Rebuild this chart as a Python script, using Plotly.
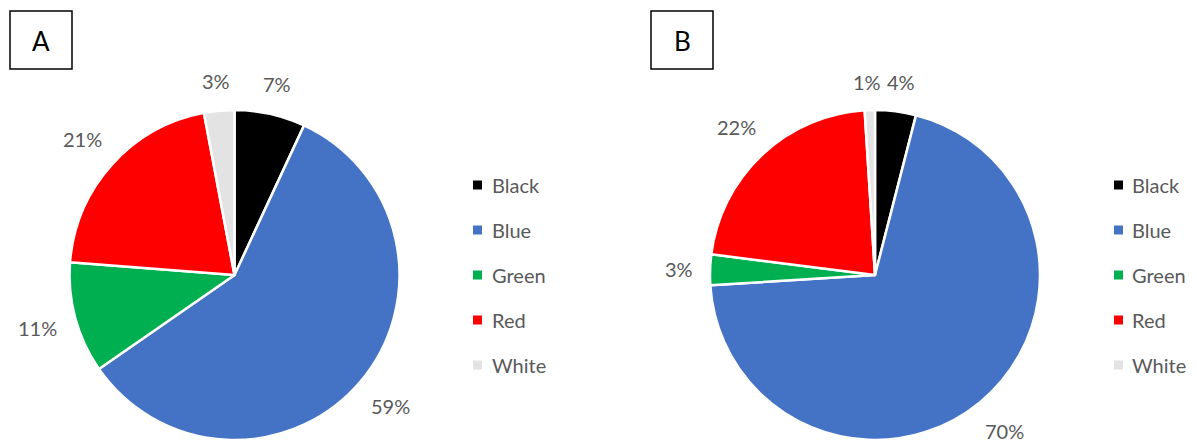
import math
import plotly.graph_objects as go

# Colour categories and their shares (percent) in the two samples
categories = ["Black", "Blue", "Green", "Red", "White"]
share_a = [7, 59, 11, 21, 3]
share_b = [4, 70, 3, 22, 1]
panel_labels = ["A", "B"]

colors = ["#000000", "#4472C4", "#00B050", "#FF0000", "#E3E3E3"]
W, H = 1197, 443
FONT = "Lato"
TXT = "#595959"
FS = 20


def px(x):
    return x / W


def py(y):
    return 1 - y / H


fig = go.Figure()

panels = [
    # (values, pie left/right px, legend square x px, legend text x px, box left px)
    (share_a, 69, 400, 477.5, 490, 10),
    (share_b, 710, 1040, 1118.5, 1130, 651),
]
pie_top, pie_bottom = 110, 440

for (vals, x0, x1, sq_x, tx_x, box_x), name in zip(panels, panel_labels):
    fig.add_trace(go.Pie(
        labels=categories,
        values=vals,
        sort=False,
        direction="clockwise",
        rotation=0,
        marker=dict(colors=colors, line=dict(color="white", width=2.5)),
        textinfo="none",
        domain=dict(x=[px(x0), px(x1)], y=[py(pie_bottom), py(pie_top)]),
        automargin=False,
        showlegend=False,
        hoverinfo="label+value",
        name=name,
    ))

    # percentage labels placed just outside each slice's mid-angle
    cx, cy = (x0 + x1) / 2, (pie_top + pie_bottom) / 2
    r = (x1 - x0) / 2
    total = sum(vals)
    cum = 0
    labels = []
    for v in vals:
        frac = (cum + v / 2) / total
        cum += v
        ang = 2 * math.pi * frac
        dx, dy = math.sin(ang), -math.cos(ang)
        txt = f"{v}%"
        w = 0.6 * FS * len(txt)
        dist = r + 19 + abs(dx) * w / 2 + abs(dy) * 9
        labels.append([cx + dx * dist, cy + dy * dist, w, txt])

    # push apart labels that would collide (first/last pair wraps around the top)
    n = len(labels)
    for i in range(n):
        a, b = labels[i], labels[(i + 1) % n]
        if abs(a[1] - b[1]) < 20:
            need = (a[2] + b[2]) / 2 + 10
            gap = abs(a[0] - b[0])
            if gap < need:
                shift = (need - gap) / 2
                left, right = (a, b) if a[0] <= b[0] else (b, a)
                left[0] -= shift
                right[0] += shift

    for lx, ly, _, txt in labels:
        fig.add_annotation(text=txt, xref="paper", yref="paper",
                           x=px(lx), y=py(ly),
                           xanchor="center", yanchor="middle", showarrow=False,
                           font=dict(family=FONT, size=FS, color=TXT))

    # legend drawn as squares and labels
    for i, (cat, col) in enumerate(zip(categories, colors)):
        yc = 185 + 45 * i
        fig.add_shape(type="rect", xref="paper", yref="paper",
                      x0=px(sq_x - 4.5), x1=px(sq_x + 4.5),
                      y0=py(yc + 4.5), y1=py(yc - 4.5),
                      fillcolor=col, line=dict(width=0))
        fig.add_annotation(text=cat, xref="paper", yref="paper",
                           x=px(tx_x), y=py(yc), xanchor="left", yanchor="middle",
                           showarrow=False,
                           font=dict(family=FONT, size=FS, color=TXT))

    # boxed panel letter
    fig.add_shape(type="rect", xref="paper", yref="paper",
                  x0=px(box_x), x1=px(box_x + 62), y0=py(69), y1=py(11),
                  line=dict(color="black", width=1.5), fillcolor="white")
    fig.add_annotation(text=name, xref="paper", yref="paper",
                       x=px(box_x + 31), y=py(41), xanchor="center", yanchor="middle",
                       showarrow=False,
                       font=dict(family=FONT, size=26, color="black"))

fig.update_layout(
    width=W, height=H,
    margin=dict(l=0, r=0, t=0, b=0),
    paper_bgcolor="white",
    plot_bgcolor="white",
)

fig.write_html("out.html")
